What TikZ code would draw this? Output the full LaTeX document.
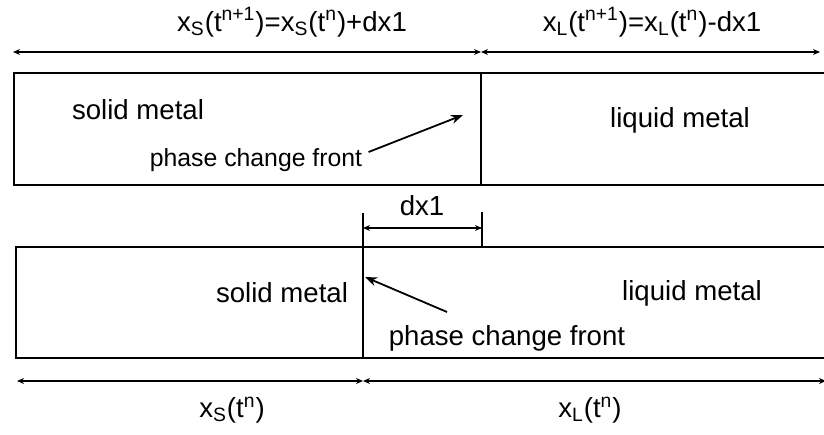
\documentclass[tikz,border=0pt]{standalone}
\usepackage{fontspec}
\setmainfont{Liberation Sans}
\usetikzlibrary{arrows.meta}
\tikzset{
  body/.style={font=\fontsize{13.8}{16}\selectfont,inner sep=0pt},
  small/.style={font=\fontsize{12.4}{14}\selectfont,inner sep=0pt},
  wall/.style={draw=black,line width=1.1pt},
  front/.style={draw=black,line width=0.8pt},
  dim/.style={{Stealth[length=3.5pt,width=3pt]}-{Stealth[length=3.5pt,width=3pt]},draw=black,line width=0.9pt},
  pointer/.style={-{Stealth[length=6pt,width=4.5pt]},draw=black,line width=0.9pt}
}

\begin{document}
\begin{tikzpicture}[x=0.5pt,y=-0.5pt]
\useasboundingbox (0,0) rectangle (824,434);
% upper state (t^{n+1})
\coordinate (upper-w) at (13,52); \coordinate (upper-m) at (481,52); \coordinate (upper-e) at (820,52);
\draw[dim] (upper-w) -- (upper-m);
\draw[dim] (upper-m) -- (upper-e);
\node[body] (xs-new) at (292,22) {x\textsubscript{S}(t\textsuperscript{n+1})=x\textsubscript{S}(t\textsuperscript{n})+dx1};
\node[body] (xl-new) at (652,22) {x\textsubscript{L}(t\textsuperscript{n+1})=x\textsubscript{L}(t\textsuperscript{n})-dx1};
\draw[wall] (824,73) -- (14,73) -- (14,185) -- (824,185);
\coordinate (front-new-n) at (481,73); \coordinate (front-new-s) at (481,185);
\draw[front] (front-new-n) -- (front-new-s);
\node[body] (solid-new) at (138,110) {solid metal};
\node[body] (liquid-new) at (680,120) {liquid metal};
\node[small] (label-new) at (256,160) {phase change front};
\coordinate (tip-new) at (463,115);
\draw[pointer] (label-new.east) ++(6,-8) -- (tip-new);
% shift dx1
\coordinate (dx-w) at (363,228); \coordinate (dx-e) at (482,228);
\draw[front] (363,213) -- (363,247);
\draw[front] (482,212) -- (482,247);
\draw[dim] (dx-w) -- (dx-e);
\node[body] (dx) at (422,206) {dx1};
% lower state (t^n)
\draw[wall] (824,247) -- (16,247) -- (16,358) -- (824,358);
\coordinate (front-old-n) at (363,247); \coordinate (front-old-s) at (363,358);
\draw[front] (front-old-n) -- (front-old-s);
\node[body] (solid-old) at (282,293) {solid metal};
\node[body] (liquid-old) at (692,293) {liquid metal};
\node[body] (label-old) at (507,338) {phase change front};
\coordinate (tip-old) at (365,277);
\draw[pointer] (447,312) -- (tip-old);
\coordinate (lower-w) at (17,381); \coordinate (lower-m) at (363,381); \coordinate (lower-e) at (826,381);
\draw[dim] (lower-w) -- (lower-m);
\draw[dim] (lower-m) -- (lower-e);
\node[body] (xs-old) at (232,410) {x\textsubscript{S}(t\textsuperscript{n})};
\node[body] (xl-old) at (590,410) {x\textsubscript{L}(t\textsuperscript{n})};
\end{tikzpicture}
\end{document}
